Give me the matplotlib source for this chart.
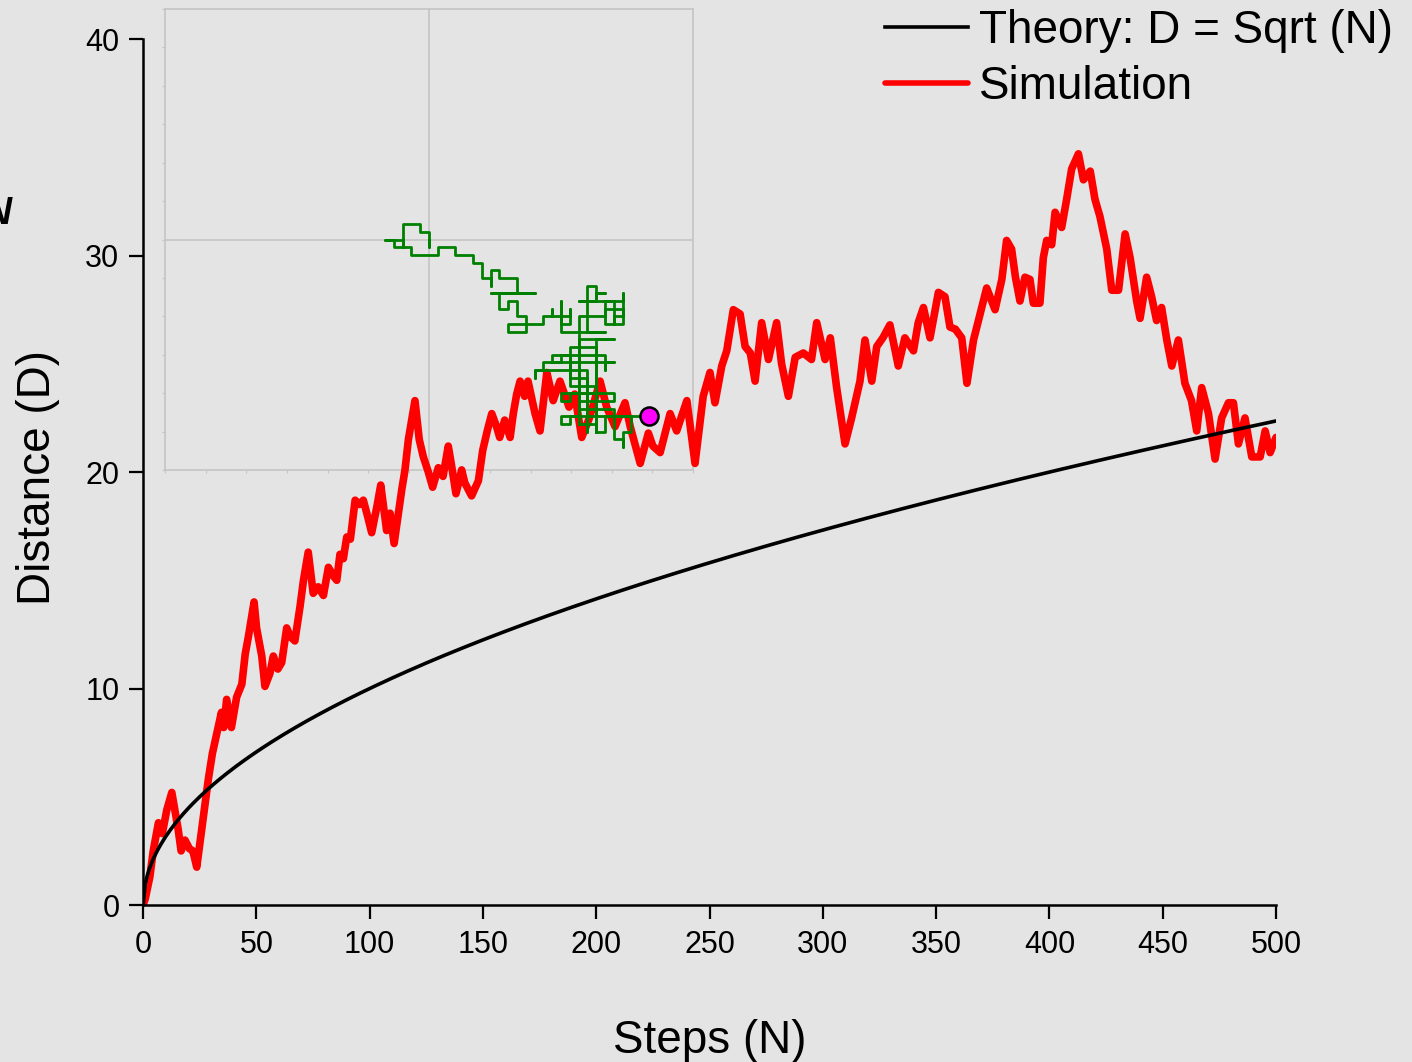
import numpy as np
import matplotlib

matplotlib.use("Agg")
import matplotlib.pyplot as plt

plt.rcParams["font.family"] = ["Liberation Sans", "DejaVu Sans"]

BG = "#e4e4e4"
FRAME = "#c4c4c4"

# simulated distance from origin (step, distance)
sim_steps = [
    0, 1, 3, 4.5, 6.8, 8.5, 10.5, 12.7, 15.5, 16.8, 18.5, 20.5, 22, 23.7, 25.9,
    28.8, 30.6, 32.5, 34.6, 35.6, 36.9, 39, 41.3, 43.6, 45.1, 46.5, 49, 50.1,
    52.4, 53.8, 56, 57.5, 59.5, 61.2, 63.4, 65, 67, 69.3, 70.8, 72.9, 75.1,
    77.3, 79.6, 81.8, 84, 85.5, 86.9, 88.4, 89.9, 91.5, 93.6, 95.5, 97.2, 99,
    100.9, 103.2, 104.9, 107.5, 109, 110.8, 112.7, 114.2, 115.6, 117.1, 120,
    121.9, 123.7, 125.9, 127.8, 130.3, 132.4, 134.7, 136, 138.1, 140.6, 142,
    145, 148, 149.9, 151.9, 153.9, 156, 157.4, 159.6, 162, 163.4, 164.9, 166.4,
    168.4, 169.9, 173, 175.2, 178.2, 181, 184, 188, 190.5, 193.6, 197, 201.7,
    204.6, 208.3, 212.7, 215, 219.4, 223, 225, 228.2, 232.6, 235.5, 240, 243.6,
    247.2, 250.2, 252.4, 255.4, 257.6, 260.5, 263.5, 265.7, 268, 270.1, 273,
    276, 279.6, 281.8, 284.8, 287.8, 291.4, 295, 297.3, 301, 303.3, 306.1,
    309.8, 312.7, 316.4, 318.6, 321.6, 323.8, 326.5, 329.6, 333.3, 336.2, 340,
    342.1, 344.4, 347.3, 351, 353.9, 356.1, 358.5, 361.3, 363.6, 366.5, 370.1,
    372.3, 376, 379, 381.1, 383.3, 385, 387, 389.2, 391.4, 392.9, 395.8, 397.3,
    398.8, 401, 402.5, 405.4, 407.6, 409.8, 412.8, 415, 418, 420.1, 422.3,
    425.3, 427.5, 430.5, 433.4, 435.6, 438.5, 440, 442.9, 445.1, 447.3, 449.5,
    451.8, 454, 456.9, 459.8, 462.7, 465, 467.2, 470.2, 473.1, 476, 479, 481.2,
    483.4, 486.3, 489.3, 493, 495.2, 497.4, 500,
]
sim_dist = [
    0, 0.3, 1.3, 2.5, 3.8, 3.3, 4.4, 5.2, 3.5, 2.5, 3.0, 2.6, 2.5, 1.75, 3.5,
    5.8, 7.0, 7.9, 8.9, 8.2, 9.5, 8.2, 9.6, 10.2, 11.6, 12.4, 14.0, 12.8,
    11.5, 10.1, 10.7, 11.5, 10.9, 11.2, 12.8, 12.4, 12.2, 13.8, 15.0, 16.3, 14.4,
    14.7, 14.3, 15.6, 15.2, 15.0, 16.2, 16.0, 17.0, 16.9, 18.7, 18.5, 18.7, 18.0,
    17.2, 18.4, 19.4, 17.3, 18.1, 16.7, 18.1, 19.2, 20.1, 21.5, 23.3,
    21.5, 20.7, 20.0, 19.3, 20.2, 19.8, 21.2, 20.4, 19.0, 20.1, 19.5,
    18.9, 19.6, 21.0, 21.9, 22.7, 22.1, 21.6, 22.4, 21.6, 22.7, 23.6, 24.2,
    23.5, 24.2, 22.7, 21.9, 24.6, 23.3, 24.2, 23.0, 23.6, 21.6, 22.5, 24.2,
    23.0, 22.1, 23.2, 22.1, 20.4, 21.8, 21.2, 20.9, 22.7, 21.9, 23.3, 20.4,
    23.5, 24.6, 23.2, 24.9, 25.6, 27.5, 27.3, 25.8, 25.5, 24.2, 26.9,
    25.2, 26.9, 25.0, 23.5, 25.3, 25.5, 25.2, 26.9, 25.2, 26.2, 23.9,
    21.3, 22.5, 24.2, 26.1, 24.2, 25.8, 26.2, 26.8, 24.9, 26.2, 25.6,
    26.9, 27.6, 26.2, 28.3, 28.1, 26.7, 26.6, 26.2, 24.1, 26.1, 27.6,
    28.5, 27.5, 28.9, 30.7, 30.3, 29.0, 27.9, 29.0, 28.9, 27.8, 27.8, 29.9,
    30.7, 30.5, 32.0, 31.3, 32.6, 34.0, 34.7, 33.5, 33.9, 32.6, 31.8,
    30.3, 28.4, 28.4, 31.0, 29.9, 27.9, 27.1, 29.0, 28.1, 27.0, 27.6,
    26.1, 24.9, 26.1, 24.1, 23.3, 21.9, 23.9, 22.7, 20.6, 22.5, 23.2, 23.2,
    21.3, 22.5, 20.7, 20.7, 21.9, 20.9, 21.6,
]

# theory curve D = sqrt(N)
theory_steps = np.arange(0, 501)
theory_dist = np.sqrt(theory_steps)

# lattice walk shown in the inset (x, y) and the walker's current position
walk_x = [
    0, 0, 0, -1, -1, -3, -3, -3, -5, -4, -4, -2, -2, 1, 1, 3, 3, 5, 5, 6, 6, 7,
    7, 7, 8, 8, 10, 10, 7, 12, 8, 8, 9, 9, 10, 10, 11, 11, 9, 9, 13, 13, 14,
    14, 14, 16, 16, 16, 15, 15, 15, 20, 18, 18, 19, 19, 19, 20, 19, 19, 17,
    22, 22, 22, 20, 20, 21, 21, 21, 22, 22, 20, 20, 17,
    17, 17, 21, 19, 19, 19, 16, 16, 16, 14, 14, 15, 15, 20, 20, 20, 21, 13,
    13, 12, 12, 12, 18, 18, 18, 16, 16, 19, 19, 15, 15, 16, 16, 21, 21, 17,
    17, 21, 21, 22, 22, 22, 23, 23, 15, 15, 16, 16, 17, 17, 19, 19, 20, 20, 25,
]
walk_y = [
    0, -1, 1, 1, 2, 2, -1, 0, 0, 0, -1, -1, -2, -2, -1, -1, -2, -2, -3, -3, -5, -5,
    -6, -4, -4, -5, -5, -7, -7, -7, -7, -9, -9, -8, -8, -10, -10, -12, -12, -11,
    -11, -10, -10, -9, -10, -10, -9, -11, -11, -8, -12, -12, -12, -6, -6, -8,
    -7, -7, -7, -8, -8, -8, -7, -11, -11, -8, -8, -11, -10, -10, -9, -9, -10,
    -10,
    -24, -13, -13, -13, -25, -14, -14, -18, -15, -15, -16, -16, -15, -15, -17,
    -16, -16, -16, -17, -17, -18, -17, -17, -25, -18, -18, -19, -19, -20, -20,
    -21, -21, -20, -20, -21, -21, -22, -22, -26, -26, -27, -25, -25, -23, -23,
    -24, -24, -23, -23, -24, -24, -25, -25, -23, -23,
]
walker_pos = (25, -23)

x_ticks = [0, 50, 100, 150, 200, 250, 300, 350, 400, 450, 500]
y_ticks = [0, 10, 20, 30, 40]

fig = plt.figure(figsize=(14.12, 10.62), dpi=100, facecolor=BG)

# inset frame with crosshair, drawn underneath the main traces
inset_rect = [0.1169, 0.5574, 0.3739, 0.4341]
ax_frame = fig.add_axes(inset_rect, zorder=0)
ax_frame.set_facecolor(BG)
ax_frame.set_xlim(-30, 30)
ax_frame.set_ylim(-30, 30)
for sp in ax_frame.spines.values():
    sp.set_color(FRAME)
    sp.set_linewidth(1.2)
ax_frame.axvline(0, color=FRAME, lw=1.2)
ax_frame.axhline(0, color=FRAME, lw=1.2)
ax_frame.set_xticks(np.linspace(-30, 30, 14))
ax_frame.set_yticks(np.linspace(-30, 30, 13))
ax_frame.tick_params(length=2.5, width=0.8, color=FRAME, labelbottom=False, labelleft=False)

ax = fig.add_axes([0.1013, 0.1478, 0.8024, 0.8154], zorder=1)
ax.set_facecolor("none")
sim_line, = ax.plot(sim_steps, sim_dist, color="#ff0000", lw=5.5, solid_joinstyle="round",
                    solid_capstyle="round", label="Simulation")
theory_line, = ax.plot(theory_steps, theory_dist, color="black", lw=2.6,
                       label="Theory: D = Sqrt (N)")
ax.set_xlim(0, 500)
ax.set_ylim(0, 40)
ax.set_xticks(x_ticks)
ax.set_yticks(y_ticks)
for side in ("top", "right"):
    ax.spines[side].set_visible(False)
for side in ("left", "bottom"):
    ax.spines[side].set_linewidth(1.8)
ax.tick_params(direction="out", length=10, width=1.6, labelsize=22)
ax.tick_params(axis="x", pad=8)
ax.tick_params(axis="y", pad=7)
ax.set_xlabel("Steps (N)", fontsize=33)
ax.set_ylabel("Distance (D)", fontsize=33)
ax.xaxis.set_label_coords(0.5, -0.132)
ax.yaxis.set_label_coords(-0.073, 0.494)
leg = ax.legend(handles=[theory_line, sim_line], loc="upper right",
                bbox_to_anchor=(0.99, 0.996), bbox_transform=fig.transFigure,
                frameon=False, fontsize=33, handlelength=1.8, handletextpad=0.25,
                labelspacing=0.27, borderpad=0.1, borderaxespad=0)
leg.get_lines()[1].set_linewidth(4)

# walk drawn over everything
ax_walk = fig.add_axes(inset_rect, zorder=2)
ax_walk.set_xlim(-30, 30)
ax_walk.set_ylim(-30, 30)
ax_walk.axis("off")
ax_walk.plot(walk_x, walk_y, color="#008000", lw=2.0)
ax_walk.plot(*walker_pos, "o", ms=13, mfc="#ff00ff", mec="black", mew=1.8)

fig.text(0.0078, 0.789, "N", fontsize=27, fontweight="bold", fontstyle="italic",
         ha="right", va="baseline")

fig.savefig("out.png", dpi=100, facecolor=BG)
